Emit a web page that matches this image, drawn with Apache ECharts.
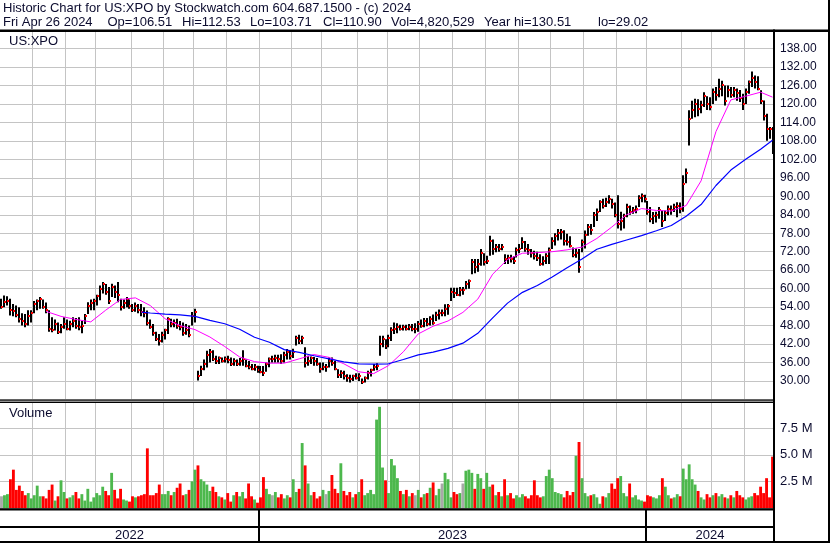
<!DOCTYPE html>
<html><head><meta charset="utf-8">
<script src="https://cdn.jsdelivr.net/npm/echarts@6/dist/echarts.min.js"></script>
<style>html,body{margin:0;padding:0;background:#fff}#c{width:830px;height:543px}</style>
</head><body><div id="c"></div>
<script>
// ---- data (each bar = two trading days) ----
const startDay = '2022-05-02';
const endDay = '2024-04-26';
const lows = [53.5,54,54.5,51.3,51,50.7,49,48,47.5,48,
 49,52,53,53.5,53.5,52,46,45.8,46.4,45.3,
 45.5,47,46.5,46.4,47.5,47,46.5,45.5,48.5,51.8,
 53,53,54.5,56.2,58.4,58,55,57.3,57,55.6,
 52.9,53.5,54,53.5,52.4,52.5,52,51,50.7,48,
 47,44.7,43,41.5,42.5,43.5,45.3,47.5,47.5,47,
 46.5,44.7,45,44.2,48,49,30.2,31.6,33.5,34.4,
 36,36.5,35.5,35.5,36,36,35.8,34.9,35,34.9,
 35,35,34.5,33.8,33.5,33.3,32.7,32.5,31.6,33,
 34.5,36,36,36,35.5,36,37,37,37.5,41.5,
 42,42,34.4,35,35.5,35,35,32.7,33.5,33,
 34.4,35,33.5,31,31,30.5,29.8,29.5,30,30.5,
 30,29.02,29.5,30.5,31.5,33.3,33.5,38.2,41,40.4,
 41,43,45.3,45.5,46.4,46.4,46.4,46.5,46.2,45.5,
 46,47.3,47.5,47.8,48,48.3,49.5,50,51,51,
 51.5,56,57,57.6,57.5,58,59.8,60,64.7,65,
 65.5,67.4,67.5,68,70.7,71,71.8,72,72.5,68,
 68,68.5,68,70.1,71.5,72.9,72,71,70.1,69.5,
 69,67.4,67.5,68,68,72.9,74,75.6,76,74,
 74,73.4,70.2,70,65.2,71.8,73,77.2,77.5,80,
 82,84.9,86,86.5,87.6,86,83.2,79.5,78.9,79.5,
 83.2,84,84.3,84.5,86.5,88.1,88,84,81.6,81,
 81.5,82.7,80,82,83.8,84,84.9,83.2,84.5,85,
 94.2,106.5,115.2,115.7,116,117,119,118,117.9,120,
 121,122.2,122.5,119.5,122.2,122,122.2,121,120.6,118,
 120,123.3,125.5,125,124.4,120,114.6,108,108.7,103.71];
const highs = [56.7,57.8,57.5,56.7,55,54.5,54,52,51.8,53,
 53,56,56.5,57.3,56.5,55.5,53,50.7,50,49,
 48.5,50.7,50,49.6,50.7,50.5,50.7,49.5,51.8,55.6,
 56.5,56.7,58,61,62.2,61.5,60.5,61.6,61,62.2,
 56.7,56.5,57.3,56.5,55,55.5,55,55,54,52.9,
 50,48.5,46,45.3,46,47,50.7,50.2,50,50.2,
 49.5,49,48.5,48,52.4,53.5,33.3,35,37,39.8,
 40.4,40,38.2,38,37.6,38,38.2,37.6,37.4,37,
 37.5,40,37,36.5,35.5,35.5,35,34.9,34.9,36,
 37.6,38.2,38.5,38.5,38.7,39.5,40.4,40,40.5,44.7,
 45,44.7,41,38.2,38,37.8,37.5,36,36,35.5,
 37.6,37.6,36.5,33.8,33.5,33.3,32.2,32,32,32.5,
 32.5,30.8,31.5,33.3,34,35.5,35.8,44.7,44.7,43.6,
 45,47.5,49,48.8,48.3,48.3,48.3,48.5,48.5,48.8,
 49.5,50,50.5,50.5,51,51.6,52.5,53.2,53.2,54.9,
 55,60.3,60.3,60.3,60.5,60.5,62.5,63,69.6,69.6,
 69.6,72.9,71.5,70.7,77.2,76,74.5,74.5,74.5,71.2,
 71,71,70.5,73.4,74.5,76.7,75.5,74.5,72.9,72.3,
 72,71.2,70.5,71.5,73.4,76.7,78,79.4,79.4,79,
 77.8,77,73.4,73,72.9,76,78.9,81,81,84.9,
 86,88.7,89.2,89.5,90.3,89.2,88,90.3,85,84.3,
 87.6,87,86.5,87,90.3,90.9,90.5,88.5,86.5,84.9,
 85,86.5,85.4,85.4,87,87,87.6,88.1,88,96.8,
 99,117.9,121,121.7,121.5,121,123.8,122.5,122.2,125,
 125.5,128.2,127.5,126,126,125.5,125.5,125,124.5,123.3,
 125,127.6,130.51,129.2,129,124.4,121.1,116.8,112.5,112.53];
const closes = [54,55.6,56,53,52.9,51.5,50,49.6,48.5,51,
 52,55,56,56.7,54,53,47,46.5,48.5,46,
 47.5,48.5,47,48.5,49.5,48,47.5,48,51,54.5,
 55.5,56,57.5,60,61.5,59,56,60.5,59,58,
 54,55.5,56.5,54.5,53,54.5,53,52.5,52,49,
 47.5,45.5,43.5,43,45,46.5,50,48.5,49,48,
 47.5,45.5,46.5,45,51,52.5,31.5,34,35.5,38.5,
 39.5,37,36.5,37.5,36.5,37,36.8,35.5,36.5,35.5,
 36.5,37,35,34.5,34,34.5,33.5,33,32.5,35.5,
 37,37,37.5,37,36.5,38.5,39.5,38,39.5,44,
 43,44,36,36.5,37.5,36.5,35.5,34,34.5,34.5,
 36.5,36,34,32,32.5,31.5,31,30.5,31.5,31,
 31.5,29.8,31,32.5,33.5,34.5,35,42,43.5,41.5,
 44,46.5,47,47.5,47,47.5,47,47.5,47,47,
 48.5,48,49.5,48.5,50,49,51.5,52,52,53.5,
 54.5,59,58.5,58,59.5,59.5,61.5,62.5,68.5,67,
 68,71.5,68.5,69,75.5,73,73.5,73,73.5,69.5,
 70,69.5,69,72.5,73,75,73,72.5,71.5,70.5,
 70,68,69,70.5,72.5,75.5,77,78,78.5,75.5,
 75,74,71,71.5,67,75,77.5,80,79,84,
 85,88,87,88,89,87.5,84,81,82,83.5,
 86.5,85,85.5,86,89.5,90,89,85,82.5,83.5,
 84,85.5,82,84.5,86,85.5,86.5,87,86,94,
 97.5,115,118,120,118.5,119.5,122.5,120,119,124,
 123,125,126,121,124.5,123,124.5,123.5,122,120,
 124,127,128.5,127,125,121,116,112,111.8,110.9];
const volumesM = [1.1,1.2,1.3,2.7,3.6,1.7,2.1,1.6,1.2,1.4,
 0.9,1.2,2.1,1.1,1.1,0.9,1.7,2.2,0.7,1.1,
 2.6,1.5,0.9,1.0,1.2,1.5,0.9,1.3,0.7,1.8,
 0.6,1.0,1.4,1.2,2.0,1.6,1.2,3.3,1.7,0.9,
 1.8,0.8,0.7,0.6,1.1,1.0,1.1,1.2,1.3,5.6,
 1.2,1.2,1.4,2.2,1.3,1.3,1.6,1.2,1.5,1.9,
 2.3,1.2,1.3,1.7,2.5,3.6,4.0,2.7,2.5,2.2,
 1.6,2.0,1.5,1.1,1.0,0.8,1.4,0.6,1.2,1.5,
 1.1,1.5,0.9,2.3,1.1,0.8,0.5,1.0,2.9,1.8,
 1.3,1.2,1.5,1.0,1.3,0.9,1.2,1.0,2.7,1.5,
 1.8,6.1,4.0,2.3,1.2,1.5,0.9,1.1,1.7,1.3,
 1.6,3.1,1.8,1.4,4.2,1.6,1.2,1.5,1.0,1.3,
 1.5,2.7,1.2,1.4,1.7,1.3,8.3,9.5,3.8,2.6,
 1.4,4.6,4.0,2.8,1.6,1.3,1.7,1.1,1.4,1.2,
 1.7,1.0,1.3,1.4,1.9,2.4,1.2,1.8,2.3,3.3,
 2.7,1.0,1.5,1.3,1.4,2.3,3.5,3.6,3.3,1.8,
 3.2,2.8,1.8,3.3,2.0,2.2,1.2,1.5,1.1,2.7,
 1.2,1.4,0.9,1.2,1.0,1.3,1.1,0.9,1.2,2.6,
 1.2,1.0,1.1,3.0,3.6,2.8,1.5,1.4,1.3,1.0,
 1.6,1.2,1.5,4.9,6.2,2.8,1.4,1.1,1.2,1.3,
 1.0,0.4,1.1,1.0,1.4,2.3,1.8,2.8,3.0,1.4,
 1.1,2.3,1.0,1.2,0.8,0.7,0.6,1.2,1.1,1.0,
 0.9,1.2,2.8,2.0,1.2,0.9,1.0,1.3,1.1,3.7,
 2.7,4.1,2.7,2.2,1.6,1.0,0.8,1.3,1.0,1.2,
 1.4,1.1,1.3,1.0,0.9,1.2,1.0,1.6,1.2,1.0,
 0.8,1.0,1.1,1.4,1.2,2.0,1.4,2.8,1.0,4.82];
// moving averages: [bar index, value]
const maShort = [[15,52.6],[20,51],[25,50],[30,49.2],[35,53],[40,56.5],[45,57],[50,54.5],[55,50.2],[60,48],
 [65,46.7],[70,44.3],[75,41.2],[80,37.8],[85,36.3],[90,35.8],[95,35.8],[100,37.2],[105,38.6],[110,37.7],
 [115,35.6],[120,33],[125,32.4],[130,35],[135,39.5],[140,45.3],[145,47.8],[150,49.5],[155,52.3],[160,56.6],
 [165,64.7],[170,69.5],[175,71.5],[180,71.7],[185,72],[190,72.6],[195,73.5],[200,76.3],[205,80],[210,84],
 [215,86],[220,85.4],[225,85.2],[230,87],[235,95],[240,111],[245,121.3],[250,122.5],[255,123.8],[259,122.2]];
const maLong = [[47,52.4],[50,52.1],[55,51.7],[60,51.5],[65,51],[70,49.7],[75,48.6],[80,46.8],[85,44.2],[90,42.6],
 [95,40.2],[100,39.3],[105,38.2],[110,37.2],[115,36.2],[120,35.6],[125,35.5],[130,35.6],[135,37],[140,38.5],
 [145,39.4],[150,40.6],[155,42.3],[160,45.5],[165,50.5],[170,55.3],[175,58.8],[180,61],[185,63.8],[190,66.8],
 [195,69.6],[200,72.8],[205,74.4],[210,75.8],[215,77.2],[220,78.8],[225,80.5],[230,83.5],[235,87.3],[240,93.5],
 [245,98.5],[250,102],[255,105.3],[259,108.2]];
const headerLine1 = 'Historic Chart for US:XPO by Stockwatch.com 604.687.1500 - (c) 2024';
const headerItems = ['Fri Apr 26 2024','Op=106.51','Hi=112.53','Lo=103.71','Cl=110.90','Vol=4,820,529','Year hi=130.51','lo=29.02'];
const symbolName = 'US:XPO';
const volumeTitle = 'Volume';

// ---- trading-day categories (pairs of weekdays, labelled by the later day) ----
function weekdays(a, b) {
  const out = []; const d = new Date(a + 'T00:00:00Z'); const e = new Date(b + 'T00:00:00Z');
  while (d <= e) { const w = d.getUTCDay(); if (w > 0 && w < 6) out.push(d.toISOString().slice(0, 10)); d.setUTCDate(d.getUTCDate() + 1); }
  return out;
}
const allDays = weekdays(startDay, endDay);
const categories = allDays.filter((d, i) => i % 2 === 1);
const monthStart = categories.map((d, i) => i > 0 && d.slice(0, 7) !== categories[i - 1].slice(0, 7));

const FONT = "'Liberation Sans', Arial, sans-serif";
const TXT = '#0b0b2e';
const GRID = '#c4c4c4';

const chart = echarts.init(document.getElementById('c'));
const priceData = closes.map((c, i) => [i, lows[i], highs[i], c]);
const volData = volumesM.map((v, i) => {
  let col = '#a8a8a8';
  if (i > 0 && closes[i] > closes[i - 1]) col = '#4db84d';
  else if (i > 0 && closes[i] < closes[i - 1]) col = '#ff0000';
  return { value: v, itemStyle: { color: col } };
});
const xCommon = {
  type: 'category', data: categories, boundaryGap: true,
  axisLine: { show: false }, axisTick: { show: false }, axisLabel: { show: false },
  splitLine: { show: true, interval: (idx) => !!monthStart[idx], lineStyle: { color: GRID, width: 1 } }
};
chart.setOption({
  animation: false,
  backgroundColor: '#fff',
  grid: [
    { left: 0, right: 56, top: 30, height: 369.5 },
    { left: 0, right: 56, top: 401.5, height: 106.5 }
  ],
  xAxis: [Object.assign({ gridIndex: 0 }, xCommon), Object.assign({ gridIndex: 1 }, xCommon)],
  yAxis: [
    { gridIndex: 0, type: 'value', position: 'right', min: 24, max: 144, interval: 6,
      axisLine: { show: false }, axisTick: { show: false },
      axisLabel: { margin: 6, fontFamily: FONT, fontSize: 12, color: TXT,
        formatter: v => (v < 30 || v > 138) ? '' : v.toFixed(2) },
      splitLine: { lineStyle: { color: GRID, width: 1 } } },
    { gridIndex: 1, type: 'value', position: 'right', min: 0, max: 10, interval: 2.5,
      axisLine: { show: false }, axisTick: { show: false },
      axisLabel: { margin: 6, fontFamily: FONT, fontSize: 13, color: TXT,
        formatter: v => (v <= 0 || v >= 10) ? '' : v.toFixed(1) + ' M' },
      splitLine: { lineStyle: { color: GRID, width: 1 } } }
  ],
  series: [
    { type: 'custom', xAxisIndex: 0, yAxisIndex: 0, data: priceData, clip: true, z: 2,
      encode: { x: 0, y: [1, 2, 3] },
      renderItem: (params, api) => {
        const i = api.value(0);
        const lo = api.coord([i, api.value(1)]);
        const hi = api.coord([i, api.value(2)]);
        const cl = api.coord([i, api.value(3)]);
        const x = Math.round(lo[0]);
        return { type: 'group', children: [
          { type: 'rect', shape: { x: x - 1, y: hi[1], width: 2, height: Math.max(1, lo[1] - hi[1]) }, style: { fill: '#000' } },
          { type: 'rect', shape: { x: x, y: Math.round(cl[1]) - 1, width: 2, height: 2 }, style: { fill: '#ff0000' } }
        ] };
      } },
    { type: 'line', xAxisIndex: 0, yAxisIndex: 0, data: maShort, showSymbol: false, symbol: 'none', z: 3,
      lineStyle: { color: '#ff00ff', width: 1 } },
    { type: 'line', xAxisIndex: 0, yAxisIndex: 0, data: maLong, showSymbol: false, symbol: 'none', z: 3,
      lineStyle: { color: '#0000ff', width: 1.2 } },
    { type: 'bar', xAxisIndex: 1, yAxisIndex: 1, data: volData, barCategoryGap: '4%', z: 2 }
  ]
});

// ---- frame, header texts and year labels (positions from the axis scale) ----
const px = i => chart.convertToPixel({ xAxisIndex: 1 }, i);
const bw = px(1) - px(0);
const plotRight = px(categories.length - 1) + bw / 2;
const g = [];
function rect(x, y, w, h) { g.push({ type: 'rect', shape: { x, y, width: w, height: h }, style: { fill: '#000' }, z: 100 }); }
rect(0, 29.5, 830, 2.5);
rect(Math.round(plotRight) - 1, 29.5, 2, 543 - 29.5);
rect(828, 0, 2, 543);
rect(0, 541, 830, 2);
rect(0, 399.5, plotRight, 1.2);
rect(0, 401.8, plotRight, 1.2);
rect(0, 508.2, plotRight, 2.3);
rect(0, 526, plotRight, 2);
const headerX = [3, 107.5, 182, 250, 323, 391, 484, 598];
function text(s, x, y, size, align) {
  g.push({ type: 'text', x, y, z: 101, style: { text: s, fill: TXT, font: size + 'px ' + FONT, textAlign: align || 'left', textVerticalAlign: 'middle' } });
}
text(headerLine1, 3, 8.5, 13);
headerItems.forEach((s, k) => text(s, headerX[k], 22.5, 13));
text(symbolName, 9, 41, 13);
text(volumeTitle, 9, 413, 13);
const yearsList = [];
categories.forEach((d, i) => {
  const y = d.slice(0, 4);
  if (!yearsList.length || yearsList[yearsList.length - 1].y !== y) yearsList.push({ y, first: i, last: i });
  else yearsList[yearsList.length - 1].last = i;
});
yearsList.forEach((o, k) => {
  const l = px(o.first) - bw / 2, r = px(o.last) + bw / 2;
  if (k > 0) rect(Math.round(l) - 1, 510, 2, 32);
  text(o.y, (l + r) / 2, 535, 13, 'center');
});
chart.setOption({ graphic: { elements: g } });
</script>
</body></html>
